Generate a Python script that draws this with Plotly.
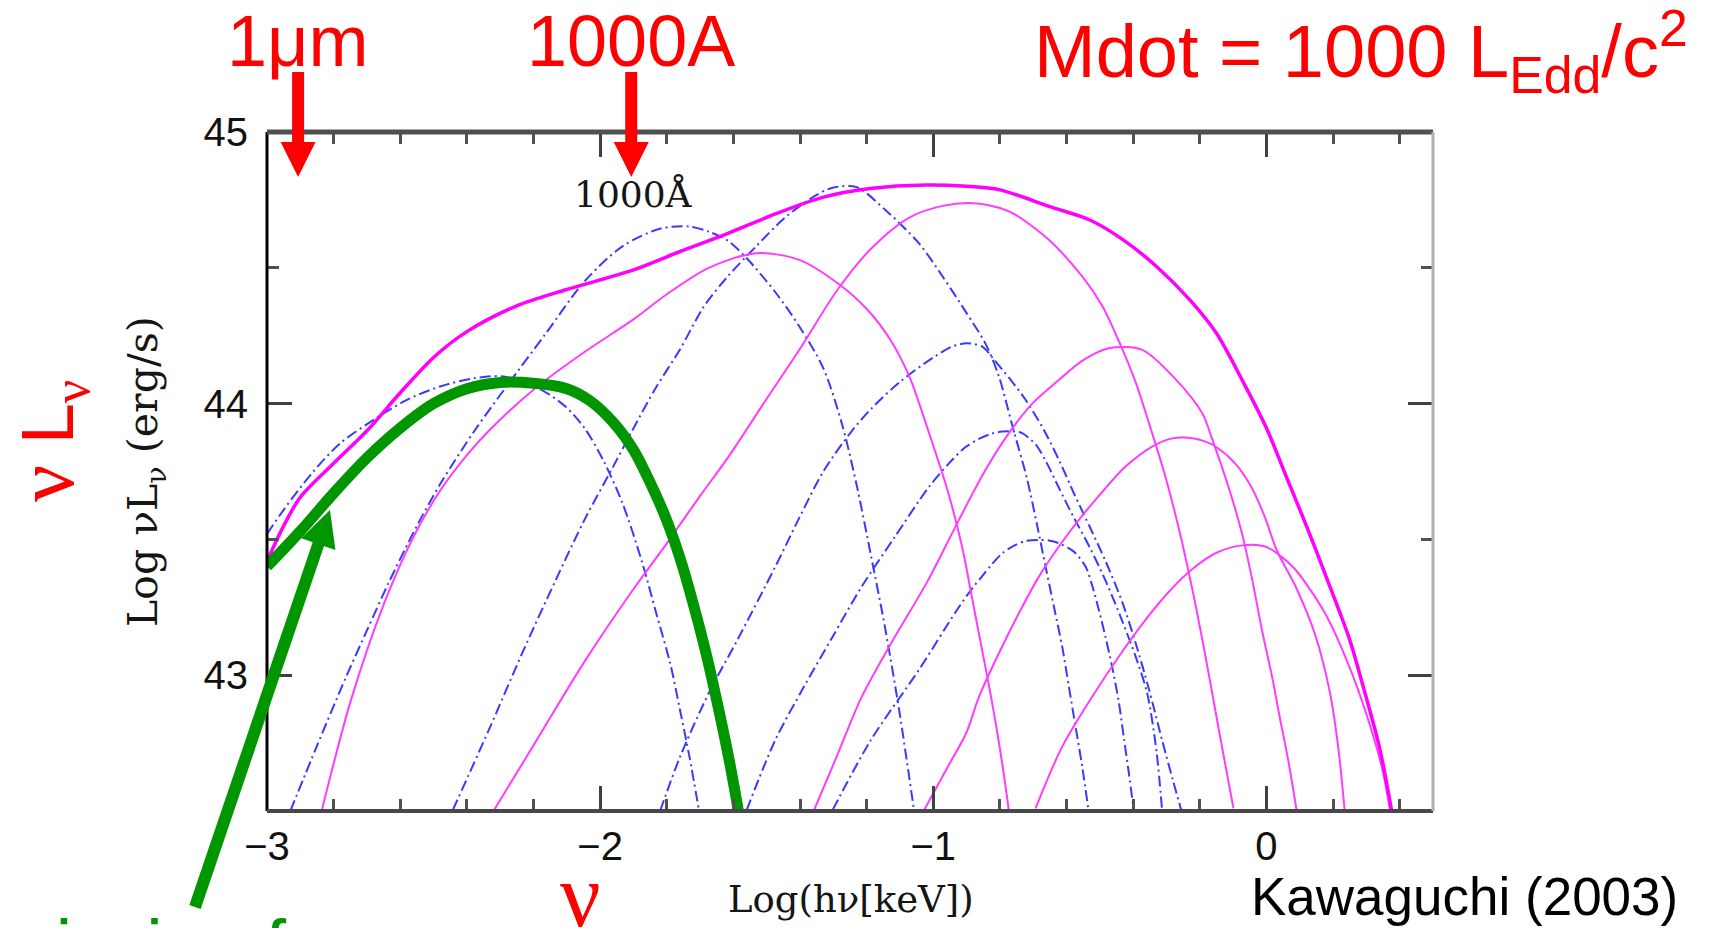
import math
import plotly.graph_objects as go

# ---------------- figure / axes ----------------
W, H = 1711, 928
X_RANGE = [-3.0, 0.5]
Y_RANGE = [42.5, 45.0]
X_MAJOR = [-3, -2, -1, 0]
Y_MAJOR = [43, 44, 45]

# ---------------- data ----------------
# total spectrum (thick magenta)
total_x = [-3.00, -2.95, -2.90, -2.80, -2.70, -2.60, -2.50, -2.40, -2.25, -2.10, -1.90, -1.76, -1.62,
           -1.47, -1.33, -1.19, -1.02, -0.90, -0.80, -0.65, -0.53, -0.43, -0.33, -0.23, -0.15, -0.07,
           0.00, 0.06, 0.12, 0.18, 0.25, 0.29, 0.34, 0.376]
total_y = [43.42, 43.55, 43.655, 43.78, 43.90, 44.04, 44.17, 44.265, 44.36, 44.42, 44.492, 44.56, 44.625,
           44.70, 44.76, 44.792, 44.805, 44.80, 44.787, 44.725, 44.676, 44.603, 44.505, 44.382, 44.259,
           44.08, 43.91, 43.73, 43.55, 43.36, 43.13, 42.96, 42.73, 42.50]

# thin magenta components
m1_x = [-2.836, -2.75, -2.65, -2.56, -2.48, -2.40, -2.334, -2.191, -2.047, -1.90, -1.803, -1.674, -1.531,
        -1.402, -1.287, -1.201, -1.129, -1.072, -1.015, -0.957, -0.913, -0.883, -0.853, -0.828, -0.808,
        -0.79, -0.773]
m1_y = [42.50, 42.90, 43.26, 43.51, 43.68, 43.81, 43.90, 44.06, 44.19, 44.31, 44.40, 44.50, 44.554,
        44.529, 44.443, 44.35, 44.235, 44.10, 43.90, 43.68, 43.47, 43.28, 43.09, 42.93, 42.79,
        42.65, 42.50]

m2_x = [-2.32, -2.191, -2.047, -1.904, -1.803, -1.70, -1.617, -1.502, -1.402, -1.287, -1.187, -1.072,
        -0.972, -0.88, -0.80, -0.753, -0.653, -0.553, -0.493, -0.443, -0.393, -0.353, -0.303, -0.263,
        -0.223, -0.183, -0.143, -0.099]
m2_y = [42.50, 42.76, 43.05, 43.31, 43.48, 43.66, 43.80, 44.014, 44.198, 44.42, 44.57, 44.685,
        44.728, 44.738, 44.72, 44.695, 44.603, 44.468, 44.36, 44.23, 44.08, 43.93, 43.73, 43.54,
        43.32, 43.07, 42.80, 42.51]

m3_x = [-1.359, -1.29, -1.215, -1.13, -1.015, -0.923, -0.843, -0.773, -0.703, -0.623, -0.55, -0.473,
        -0.373, -0.273, -0.193, -0.163, -0.113, -0.073, -0.044, -0.014, 0.021, 0.036, 0.065, 0.091]
m3_y = [42.50, 42.70, 42.92, 43.11, 43.351, 43.572, 43.756, 43.891, 44.0, 44.087, 44.16, 44.204,
        44.198, 44.09, 43.965, 43.87, 43.69, 43.52, 43.36, 43.17, 42.97, 42.87, 42.69, 42.50]

m4_x = [-1.029, -0.953, -0.90, -0.863, -0.803, -0.743, -0.683, -0.623, -0.563, -0.503, -0.423, -0.343,
        -0.283, -0.233, -0.183, -0.153, -0.094, -0.044, -0.004, 0.031, 0.09, 0.146, 0.19, 0.215, 0.235]
m4_y = [42.50, 42.67, 42.79, 42.92, 43.081, 43.228, 43.363, 43.474, 43.572, 43.66, 43.768, 43.842,
        43.872, 43.874, 43.86, 43.842, 43.78, 43.69, 43.58, 43.46, 43.32, 43.15, 42.94, 42.74, 42.50]

m5_x = [-0.693, -0.613, -0.523, -0.443, -0.363, -0.283, -0.223, -0.153, -0.073, -0.004, 0.036, 0.086,
        0.176, 0.246, 0.296, 0.346, 0.371]
m5_y = [42.51, 42.737, 42.921, 43.069, 43.204, 43.32, 43.39, 43.449, 43.478, 43.474, 43.445, 43.39,
        43.228, 43.04, 42.872, 42.664, 42.504]

# blue dash-dot components
b1_x = [-3.00, -2.95, -2.865, -2.78, -2.68, -2.58, -2.48, -2.38, -2.29, -2.19, -2.105, -2.047, -1.99,
        -1.932, -1.875, -1.832, -1.789, -1.76, -1.732, -1.703]
b1_y = [43.52, 43.609, 43.744, 43.854, 43.94, 44.014, 44.063, 44.093, 44.10, 44.06, 43.99, 43.91,
        43.79, 43.63, 43.42, 43.23, 43.04, 42.87, 42.70, 42.50]

b2_x = [-2.93, -2.85, -2.764, -2.70, -2.635, -2.55, -2.477, -2.377, -2.277, -2.162, -2.047, -1.932,
        -1.818, -1.732, -1.674, -1.617, -1.56, -1.474, -1.402, -1.33, -1.273, -1.23, -1.187, -1.144,
        -1.101, -1.058]
b2_y = [42.50, 42.74, 42.99, 43.165, 43.34, 43.55, 43.71, 43.90, 44.07, 44.26, 44.45, 44.58,
        44.645, 44.652, 44.633, 44.60, 44.535, 44.41, 44.284, 44.13, 43.92, 43.70, 43.44, 43.17,
        42.86, 42.504]

b3_x = [-2.442, -2.334, -2.234, -2.133, -2.047, -1.961, -1.904, -1.832, -1.76, -1.689, -1.617, -1.531,
        -1.445, -1.359, -1.302, -1.23, -1.144, -1.043, -0.972, -0.90, -0.843, -0.803, -0.763, -0.718,
        -0.688, -0.663, -0.638, -0.613, -0.593, -0.573, -0.553, -0.535]
b3_y = [42.504, 42.799, 43.081, 43.351, 43.572, 43.768, 43.90, 44.06, 44.20, 44.357, 44.468, 44.58,
        44.685, 44.762, 44.795, 44.797, 44.713, 44.59, 44.468, 44.333, 44.22, 44.10, 43.92, 43.72,
        43.55, 43.40, 43.253, 43.105, 42.958, 42.811, 42.664, 42.51]

b4_x = [-1.82, -1.76, -1.674, -1.588, -1.474, -1.402, -1.33, -1.244, -1.187, -1.10, -1.0, -0.943,
        -0.90, -0.853, -0.823, -0.793, -0.763, -0.723, -0.668, -0.618, -0.578, -0.528, -0.483, -0.433,
        -0.393, -0.353, -0.313, -0.28, -0.255]
b4_y = [42.50, 42.70, 42.934, 43.13, 43.40, 43.58, 43.75, 43.90, 43.98, 44.08, 44.17, 44.21,
        44.222, 44.21, 44.17, 44.125, 44.08, 44.014, 43.903, 43.78, 43.67, 43.54, 43.42, 43.27,
        43.12, 42.95, 42.76, 42.61, 42.50]

b5_x = [-1.56, -1.474, -1.388, -1.302, -1.215, -1.115, -1.015, -0.953, -0.903, -0.863, -0.823, -0.793,
        -0.753, -0.733, -0.693, -0.663, -0.623, -0.578, -0.53, -0.48, -0.433, -0.393, -0.358, -0.33,
        -0.313]
b5_y = [42.504, 42.762, 42.958, 43.142, 43.326, 43.51, 43.69, 43.78, 43.84, 43.87, 43.89, 43.897,
        43.897, 43.891, 43.85, 43.79, 43.69, 43.58, 43.47, 43.34, 43.20, 43.07, 42.934, 42.72,
        42.50]

b6_x = [-1.302, -1.187, -1.043, -0.929, -0.883, -0.853, -0.823, -0.793, -0.753, -0.723, -0.683, -0.653,
        -0.623, -0.578, -0.543, -0.523, -0.503, -0.483, -0.463, -0.443, -0.428, -0.413, -0.398]
b6_y = [42.504, 42.762, 43.02, 43.24, 43.32, 43.365, 43.41, 43.449, 43.48, 43.494, 43.498, 43.496,
        43.486, 43.455, 43.40, 43.33, 43.24, 43.14, 43.03, 42.90, 42.77, 42.64, 42.50]

# hand-drawn green sketch
green_x = [-3.0, -2.9, -2.8, -2.7, -2.6, -2.5, -2.4, -2.3, -2.2, -2.1, -2.03, -1.96, -1.90, -1.85,
           -1.80, -1.76, -1.72, -1.68, -1.64, -1.61, -1.585]
green_y = [43.40, 43.53, 43.67, 43.80, 43.91, 44.00, 44.055, 44.078, 44.075, 44.055, 44.01, 43.93,
           43.83, 43.71, 43.57, 43.43, 43.26, 43.07, 42.85, 42.67, 42.50]

# wavelength markers (Angstrom) -> log(h nu [keV])
marker_wavelengths_A = [10000.0, 1000.0]
marker_labels = ["1\u03bcm", "1000A"]

# ---------------- styling ----------------
MAGENTA = "#ff00ff"
THIN_MAGENTA = "#ff3cff"
BLUE = "#3a3aff"
GREEN = "#009600"
RED = "#ff0000"
SANS = "Liberation Sans, Arial, sans-serif"
SERIF = "DejaVu Serif, serif"
TIMES = "Liberation Serif, Times New Roman, serif"
SMOOTH = 0.85

# plot-area pixel box
PL, PR, PT, PB = 267, 1433, 132, 811


def px_to_paper(px, py):
    return (px - PL) / (PR - PL), (PB - py) / (PB - PT)


def data_to_px(x, y):
    px = PL + (x - X_RANGE[0]) / (X_RANGE[1] - X_RANGE[0]) * (PR - PL)
    py = PB - (y - Y_RANGE[0]) / (Y_RANGE[1] - Y_RANGE[0]) * (PB - PT)
    return px, py


fig = go.Figure()

blue_curves = [(b1_x, b1_y), (b2_x, b2_y), (b3_x, b3_y), (b4_x, b4_y), (b5_x, b5_y), (b6_x, b6_y)]
for bx, by in blue_curves:
    fig.add_trace(go.Scatter(x=bx, y=by, mode="lines", hoverinfo="skip",
                             line=dict(color=BLUE, width=2, dash="11px,4px,2px,4px",
                                       shape="spline", smoothing=SMOOTH)))

thin_curves = [(m1_x, m1_y), (m2_x, m2_y), (m3_x, m3_y), (m4_x, m4_y), (m5_x, m5_y)]
for mx, my in thin_curves:
    fig.add_trace(go.Scatter(x=mx, y=my, mode="lines", hoverinfo="skip",
                             line=dict(color=THIN_MAGENTA, width=2, shape="spline", smoothing=SMOOTH)))

fig.add_trace(go.Scatter(x=total_x, y=total_y, mode="lines", hoverinfo="skip",
                         line=dict(color=MAGENTA, width=3.5, shape="spline", smoothing=SMOOTH)))

fig.add_trace(go.Scatter(x=green_x, y=green_y, mode="lines", hoverinfo="skip",
                         line=dict(color=GREEN, width=11, shape="spline", smoothing=SMOOTH)))

# ---------------- shapes: frame + arrows ----------------
shapes = []
frame = [((0, 0), (0, 1), "#000000", 3),
         ((0, 1), (1, 1), "#505050", 5),
         ((0, 0), (1, 0), "#484848", 4),
         ((1, 0), (1, 1), "#b0b0b0", 3)]
for (x0, y0), (x1, y1), c, w in frame:
    shapes.append(dict(type="line", xref="paper", yref="paper", x0=x0, y0=y0, x1=x1, y1=y1,
                       line=dict(color=c, width=w), layer="above"))


def arrow(tail_px, tip_px, color, shaft_w, head_len, head_w):
    tx, ty = tail_px
    hx, hy = tip_px
    L = math.hypot(hx - tx, hy - ty)
    ux, uy = (hx - tx) / L, (hy - ty) / L
    bx, by = hx - head_len * ux, hy - head_len * uy
    nx, ny = -uy, ux
    p0 = px_to_paper(tx, ty)
    p1 = px_to_paper(bx + 0.5 * ux, by + 0.5 * uy)
    out = [dict(type="line", xref="paper", yref="paper", x0=p0[0], y0=p0[1], x1=p1[0], y1=p1[1],
                line=dict(color=color, width=shaft_w), layer="above")]
    c1 = px_to_paper(bx + nx * head_w / 2, by + ny * head_w / 2)
    c2 = px_to_paper(bx - nx * head_w / 2, by - ny * head_w / 2)
    tp = px_to_paper(hx, hy)
    path = "M {:.5f},{:.5f} L {:.5f},{:.5f} L {:.5f},{:.5f} Z".format(c1[0], c1[1], tp[0], tp[1], c2[0], c2[1])
    out.append(dict(type="path", xref="paper", yref="paper", path=path,
                    fillcolor=color, line=dict(color=color, width=0), layer="above"))
    return out


annotations = []
ARROW_TIP_Y = 44.834
ARROW_TOP_PX = 72
for lam, lab in zip(marker_wavelengths_A, marker_labels):
    xlog = math.log10(12.398 / lam)
    tip = data_to_px(xlog, ARROW_TIP_Y)
    shapes += arrow((tip[0], ARROW_TOP_PX), tip, RED, 12, 35, 35)
    annotations.append(dict(x=px_to_paper(tip[0], 0)[0], y=px_to_paper(0, 41)[1], xref="paper", yref="paper",
                            text=lab, showarrow=False, xanchor="center", yanchor="middle",
                            font=dict(family=SANS, size=72, color=RED)))

# green arrow pointing at the low-energy end of the green sketch
g_tip = data_to_px(-2.811, 43.608)
shapes += arrow((195, 907), g_tip, GREEN, 12, 36, 36)

# ---------------- annotations ----------------
def pp(px, py):
    return px_to_paper(px, py)

ax_, ay_ = pp(146, 472)
annotations.append(dict(x=ax_, y=ay_, xref="paper", yref="paper", textangle=-90, showarrow=False,
                        text="Log \u03bdL<sub>\u03bd</sub> (erg/s)", xanchor="center", yanchor="middle",
                        font=dict(family=SERIF, size=41, color="#151515")))
ax_, ay_ = pp(851, 899)
annotations.append(dict(x=ax_, y=ay_, xref="paper", yref="paper", showarrow=False,
                        text="Log(h\u03bd[keV])", xanchor="center", yanchor="middle",
                        font=dict(family=SERIF, size=37, color="#151515")))
annotations.append(dict(x=-1.90, y=44.77, xref="x", yref="y", showarrow=False, text="1000\u00c5",
                        xanchor="center", yanchor="middle", font=dict(family=SERIF, size=36, color="#151515")))
ax_, ay_ = pp(1690, 52)
annotations.append(dict(x=ax_, y=ay_, xref="paper", yref="paper", showarrow=False,
                        text="Mdot = 1000 L<sub>Edd</sub>/c<sup>2</sup>", xanchor="right", yanchor="middle",
                        font=dict(family=SANS, size=74, color=RED)))
ax_, ay_ = pp(50, 441)
annotations.append(dict(x=ax_, y=ay_, xref="paper", yref="paper", showarrow=False, textangle=-90,
                        text='<span style="font-family:Liberation Serif;font-size:82px">\u03bd</span> L'
                             '<sub><span style="font-family:Liberation Serif">\u03bd</span></sub>',
                        xanchor="center", yanchor="middle", font=dict(family=SANS, size=74, color=RED)))
ax_, ay_ = pp(580, 895)
annotations.append(dict(x=ax_, y=ay_, xref="paper", yref="paper", showarrow=False, text="\u03bd",
                        xanchor="center", yanchor="middle", font=dict(family=TIMES, size=90, color=RED)))
ax_, ay_ = pp(1680, 896)
annotations.append(dict(x=ax_, y=ay_, xref="paper", yref="paper", showarrow=False, text="Kawaguchi (2003)",
                        xanchor="right", yanchor="middle", font=dict(family=SANS, size=53, color="#000000")))
ax_, ay_ = pp(-49, 946)
annotations.append(dict(x=ax_, y=ay_, xref="paper", yref="paper", showarrow=False, text="emission from",
                        xanchor="left", yanchor="middle", font=dict(family=SANS, size=74, color=GREEN)))

fig.update_layout(
    width=W, height=H, autosize=False,
    margin=dict(l=PL, r=W - PR, t=PT, b=H - PB, pad=0),
    paper_bgcolor="white", plot_bgcolor="white",
    showlegend=False, hovermode=False,
    shapes=shapes, annotations=annotations,
    xaxis=dict(range=X_RANGE, showgrid=False, zeroline=False, showline=False,
               tickmode="array", tickvals=X_MAJOR, ticks="inside", ticklen=25, tickwidth=2.5,
               tickcolor="#404040", mirror="ticks", ticklabelstandoff=8,
               tickfont=dict(family=SANS, size=40, color="#111111"),
               minor=dict(ticks="inside", ticklen=12, tickwidth=2.5, tickcolor="#505050",
                          dtick=0.2, tick0=0)),
    yaxis=dict(range=Y_RANGE, showgrid=False, zeroline=False, showline=False,
               tickmode="array", tickvals=Y_MAJOR, ticks="inside", ticklen=25, tickwidth=2.5,
               tickcolor="#404040", mirror="ticks", ticklabelstandoff=18,
               tickfont=dict(family=SANS, size=40, color="#111111"),
               minor=dict(ticks="inside", ticklen=12, tickwidth=2.5, tickcolor="#505050",
                          dtick=0.5, tick0=0)),
)

fig.write_html("out.html", config={"displayModeBar": False},
               post_script="document.body.style.margin='0';document.body.style.overflow='hidden';")
